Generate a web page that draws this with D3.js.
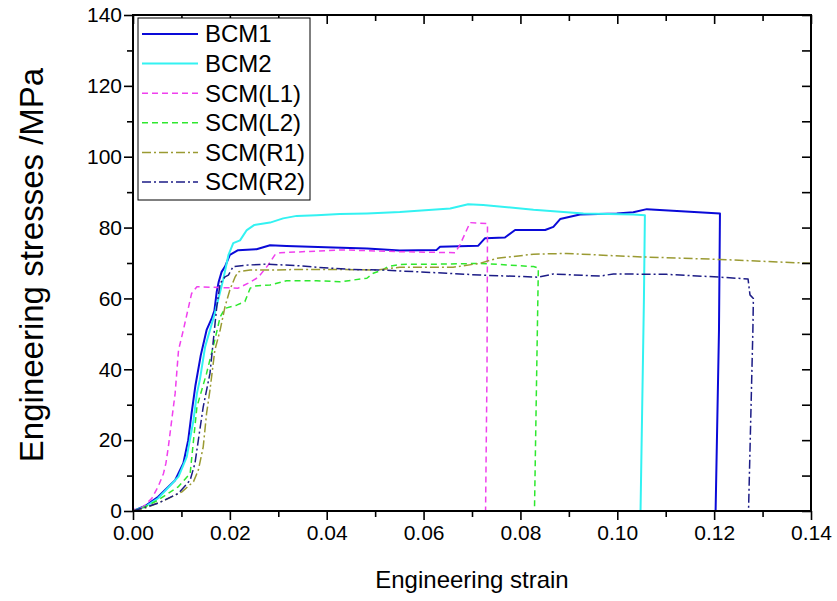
<!DOCTYPE html>
<html>
<head>
<meta charset="utf-8">
<script src="https://cdn.jsdelivr.net/npm/d3@7"></script>
<style>
  body { margin: 0; background: #fff; }
  svg { display: block; font-family: "Liberation Sans", Arial, sans-serif; }
</style>
</head>
<body>
<svg id="chart" width="837" height="601"></svg>
<script>
// strain / stress pairs
const bcm1 = [[0,0],[0.0025,1.4],[0.0052,4.0],[0.0087,8.7],[0.0104,13.5],[0.0114,20.0],[0.0121,27.6],[0.0129,35.5],[0.0140,44.0],[0.0152,51.1],[0.0163,54.5],[0.0168,56.5],[0.0173,62.0],[0.0177,64.7],[0.0183,67.5],[0.0190,69.0],[0.0200,72.3],[0.0217,73.6],[0.0255,73.9],[0.0283,75.0],[0.0317,74.8],[0.0414,74.4],[0.0483,74.1],[0.0551,73.5],[0.0627,73.7],[0.0634,74.6],[0.0713,74.9],[0.0727,77.0],[0.0768,77.2],[0.0789,79.3],[0.0851,79.3],[0.0868,80.2],[0.0882,82.4],[0.0923,83.7],[0.0999,84.0],[0.1033,84.3],[0.1061,85.2],[0.1212,84.0],[0.1210,51.1],[0.1203,0]]
const bcm2 = [[0,0],[0.0025,1.2],[0.0052,3.6],[0.0094,9.7],[0.0111,15.3],[0.0125,25.7],[0.0132,33.2],[0.0138,37.0],[0.0149,46.4],[0.0169,55.8],[0.0186,65.2],[0.0197,72.2],[0.0207,75.6],[0.0221,76.4],[0.0235,79.3],[0.0250,80.7],[0.0283,81.4],[0.0310,82.6],[0.0338,83.3],[0.0379,83.5],[0.0427,83.8],[0.0483,84.0],[0.0551,84.4],[0.0655,85.4],[0.0692,86.6],[0.0723,86.4],[0.0827,85.0],[0.0930,84.0],[0.1033,83.7],[0.1057,83.5],[0.1055,59.6],[0.1048,0]]
const scmL1 = [[0,0],[0.0003,0.5],[0.0011,0.1],[0.0025,1.7],[0.0039,3.6],[0.0052,6.9],[0.0063,10.6],[0.0068,13.5],[0.0073,18.1],[0.0080,25.7],[0.0087,33.2],[0.0094,45.4],[0.0104,51.1],[0.0121,61.4],[0.0132,63.3],[0.0217,62.9],[0.0238,64.3],[0.0259,66.0],[0.0279,69.4],[0.0293,72.3],[0.0304,72.9],[0.0434,73.7],[0.0551,73.2],[0.0665,72.9],[0.0675,75.1],[0.0696,81.4],[0.0732,81.1],[0.0731,40],[0.0728,0]]
const scmL2 = [[0,0],[0.0025,1.2],[0.0052,3.1],[0.0094,6.9],[0.0118,10.6],[0.0125,20.0],[0.0132,29.4],[0.0152,38.9],[0.0169,48.3],[0.0180,54.8],[0.0190,57.2],[0.0214,58.1],[0.0231,59.1],[0.0242,62.9],[0.0252,63.5],[0.0283,63.8],[0.0317,65.0],[0.0379,65.0],[0.0427,64.7],[0.0483,65.7],[0.0496,67.1],[0.0514,68.0],[0.0527,69.0],[0.0551,69.6],[0.0648,69.7],[0.0716,69.9],[0.0827,69.0],[0.0837,68.6],[0.0829,0]]
const scmR1 = [[0,0],[0.0025,0.8],[0.0066,3.1],[0.0101,5.4],[0.0125,8.3],[0.0135,11.6],[0.0145,18.1],[0.0152,27.6],[0.0159,34.2],[0.0169,45.4],[0.0180,51.1],[0.0190,57.7],[0.0200,62.4],[0.0211,66.1],[0.0217,67.5],[0.0242,68.0],[0.0290,68.0],[0.0345,68.2],[0.0414,68.2],[0.0503,68.0],[0.0551,68.8],[0.0661,68.8],[0.0716,69.9],[0.0751,71.3],[0.0827,72.5],[0.0895,72.7],[0.1033,71.8],[0.1212,71.0],[0.14,69.9]]
const scmR2 = [[0,0],[0.0052,2.2],[0.0094,5.0],[0.0118,8.7],[0.0128,13.5],[0.0138,22.9],[0.0145,29.4],[0.0159,38.9],[0.0173,57.7],[0.0180,64.3],[0.0190,66.1],[0.0197,66.6],[0.0207,69.0],[0.0235,69.4],[0.0276,69.7],[0.0345,69.2],[0.0379,68.8],[0.0448,68.2],[0.0517,68.0],[0.0648,67.1],[0.0716,66.6],[0.0837,66.0],[0.0868,66.9],[0.0964,66.3],[0.0992,66.9],[0.1102,66.8],[0.1212,66.0],[0.1270,65.5],[0.1274,61.0],[0.1281,60.0],[0.1280,51.1],[0.1271,0]]

const seriesNames = ["BCM1", "BCM2", "SCM(L1)", "SCM(L2)", "SCM(R1)", "SCM(R2)"]
const xTicks = [0, 0.02, 0.04, 0.06, 0.08, 0.10, 0.12, 0.14]
const xMinor = [0.01, 0.03, 0.05, 0.07, 0.09, 0.11, 0.13]
const yTicks = [0, 20, 40, 60, 80, 100, 120, 140]
const yMinor = [10, 30, 50, 70, 90, 110, 130]

const styles = [
  {color: "#0a0ad8", width: 2, dash: null},
  {color: "#33f2f2", width: 2, dash: null},
  {color: "#f040ee", width: 1.5, dash: "6,4"},
  {color: "#2ee82e", width: 1.5, dash: "6,4"},
  {color: "#9a9a32", width: 1.5, dash: "9,3,2,3"},
  {color: "#1c1c86", width: 1.5, dash: "9,3,2,3"}
]
const series = [bcm1, bcm2, scmL1, scmL2, scmR1, scmR2].map((pts, i) => ({name: seriesNames[i], pts, ...styles[i]}))

const svg = d3.select("#chart")
const margin = {left: 133, right: 26, top: 15, bottom: 90}
const width = 837, height = 601

const x = d3.scaleLinear().domain([0, 0.14]).range([margin.left, width - margin.right])
const y = d3.scaleLinear().domain([0, 140]).range([height - margin.bottom, margin.top])

// curves
svg.append("g")
  .selectAll("path")
  .data(series)
  .join("path")
  .attr("fill", "none")
  .attr("stroke", d => d.color)
  .attr("stroke-width", d => d.width)
  .attr("stroke-dasharray", d => d.dash)
  .attr("stroke-linejoin", "round")
  .attr("d", d => d3.line().x(p => x(p[0])).y(p => y(p[1]))(d.pts))

const axisStyle = g => g.call(g => g.select(".domain").remove())
  .call(g => g.selectAll("line").attr("stroke", "#000").attr("stroke-width", 1.6))

// bottom axis
svg.append("g")
  .attr("transform", `translate(0,${y(0)})`)
  .call(d3.axisBottom(x).tickValues(xTicks).tickFormat(d3.format(".2f")).tickSize(9).tickPadding(5))
  .call(axisStyle)
  .call(g => g.selectAll("text").attr("font-size", 21).attr("fill", "#000").attr("font-family", "Liberation Sans, Arial"))
svg.append("g")
  .attr("transform", `translate(0,${y(0)})`)
  .call(d3.axisBottom(x).tickValues(xMinor).tickFormat("").tickSize(6))
  .call(axisStyle)

// left axis
svg.append("g")
  .attr("transform", `translate(${x(0)},0)`)
  .call(d3.axisLeft(y).tickValues(yTicks).tickSize(9).tickPadding(2))
  .call(axisStyle)
  .call(g => g.selectAll("text").attr("font-size", 21).attr("fill", "#000").attr("font-family", "Liberation Sans, Arial"))
svg.append("g")
  .attr("transform", `translate(${x(0)},0)`)
  .call(d3.axisLeft(y).tickValues(yMinor).tickFormat("").tickSize(6))
  .call(axisStyle)

// top and right: inward ticks, no labels
svg.append("g")
  .attr("transform", `translate(0,${y(140)})`)
  .call(d3.axisTop(x).tickValues(xTicks).tickFormat("").tickSize(-9))
  .call(axisStyle)
svg.append("g")
  .attr("transform", `translate(0,${y(140)})`)
  .call(d3.axisTop(x).tickValues(xMinor).tickFormat("").tickSize(-6))
  .call(axisStyle)
svg.append("g")
  .attr("transform", `translate(${x(0.14)},0)`)
  .call(d3.axisRight(y).tickValues(yTicks).tickFormat("").tickSize(-9))
  .call(axisStyle)
svg.append("g")
  .attr("transform", `translate(${x(0.14)},0)`)
  .call(d3.axisRight(y).tickValues(yMinor).tickFormat("").tickSize(-9))
  .call(axisStyle)

// frame
svg.append("rect")
  .attr("x", x(0)).attr("y", y(140))
  .attr("width", x(0.14) - x(0)).attr("height", y(0) - y(140))
  .attr("fill", "none").attr("stroke", "#000").attr("stroke-width", 2)

// axis titles
svg.append("text")
  .attr("x", (x(0) + x(0.14)) / 2).attr("y", 588)
  .attr("text-anchor", "middle").attr("font-size", 24)
  .text("Engineering strain")
svg.append("text")
  .attr("transform", `translate(43,${(y(0) + y(140)) / 2 + 2}) rotate(-90)`)
  .attr("text-anchor", "middle").attr("font-size", 33)
  .text("Engineering stresses /MPa")

// legend
const legend = svg.append("g").attr("transform", "translate(138,18)")
legend.append("rect")
  .attr("width", 172).attr("height", 182)
  .attr("fill", "#fff").attr("stroke", "#000").attr("stroke-width", 1)
const item = legend.selectAll("g.item")
  .data(series)
  .join("g")
  .attr("class", "item")
  .attr("transform", (d, i) => `translate(0,${16 + i * 29.6})`)
item.append("line")
  .attr("x1", 4).attr("x2", 60)
  .attr("stroke", d => d.color)
  .attr("stroke-width", d => d.width)
  .attr("stroke-dasharray", d => d.dash)
item.append("text")
  .attr("x", 67).attr("dy", "0.35em")
  .attr("font-size", 24)
  .text(d => d.name)
</script>
</body>
</html>
